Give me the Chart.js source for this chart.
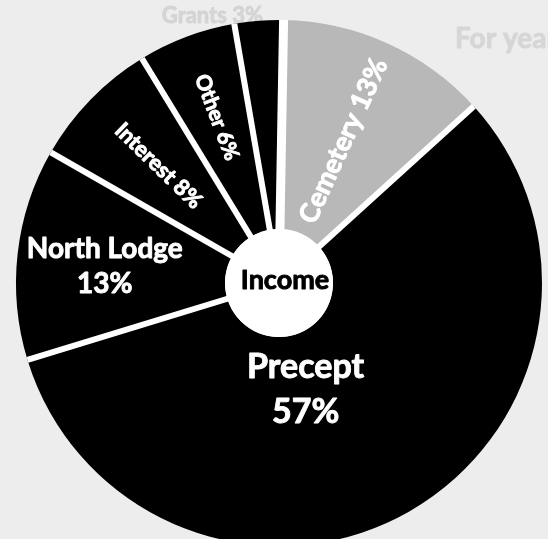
<!DOCTYPE html>
<html>
<head>
<meta charset="utf-8">
<script src="https://cdn.jsdelivr.net/npm/chart.js@4.4.0/dist/chart.umd.min.js"></script>
<style>
  html, body { margin: 0; padding: 0; background: #ededed; overflow: hidden; }
  #wrap { position: relative; width: 548px; height: 539px; overflow: hidden; }
  canvas { position: absolute; left: 0; top: 0; }
</style>
</head>
<body>
<div id="wrap"><canvas id="incomeChart" width="560" height="570"></canvas></div>
<script>
const categories = ['Cemetery', 'Precept', 'North Lodge', 'Interest', 'Other', 'Grants'];
const shares = [13, 57, 13, 8, 6, 3];
const sliceColors = ['#b8b8b8', '#000000', '#000000', '#000000', '#000000', '#000000'];
const centerTitle = 'Income';
const headerText = 'For year';

// how each slice label is placed (distance from centre in px, font size)
const labelLayout = [
  { dist: 156, size: 27, mode: 'radial' },
  { dist: 110, size: 34, mode: 'flat', angleDeg: 166, lines: 2, gap: 45 },
  { dist: 175, size: 28, mode: 'flat', angleDeg: 275.5, lines: 2, gap: 35 },
  { dist: 168, size: 22, mode: 'radial' },
  { dist: 177, size: 21, mode: 'radial' },
  { dist: 275, size: 22, mode: 'flat', angleDeg: 346, color: '#d4d4d4', behind: true }
];

const FONT = 'Lato, "Open Sans", sans-serif';

// bold text with a thin outline of the same colour, closer to the heavy original face
function heavyText(ctx, text, x, y) {
  ctx.strokeStyle = ctx.fillStyle;
  ctx.lineWidth = 0.9;
  ctx.lineJoin = 'round';
  ctx.strokeText(text, x, y);
  ctx.fillText(text, x, y);
}

function drawLabels(chart, behind) {
  const ctx = chart.ctx;
  const arcs = chart.getDatasetMeta(0).data;
  arcs.forEach((arc, i) => {
    const lay = labelLayout[i];
    if (!!lay.behind !== behind) return;
    let mid = (arc.startAngle + arc.endAngle) / 2;
    if (lay.angleDeg !== undefined) mid = (lay.angleDeg - 90) * Math.PI / 180;
    const px = arc.x + Math.cos(mid) * lay.dist;
    const py = arc.y + Math.sin(mid) * lay.dist;
    ctx.save();
    ctx.translate(px, py);
    ctx.fillStyle = lay.color || '#ffffff';
    ctx.font = `bold ${lay.size}px ${FONT}`;
    ctx.textAlign = 'center';
    ctx.textBaseline = 'middle';
    if (lay.mode === 'radial') {
      const outward = Math.cos(mid) >= 0;
      ctx.rotate(outward ? mid : mid + Math.PI);
      heavyText(ctx, `${categories[i]} ${shares[i]}%`, 0, 0);
    } else if (lay.lines === 2) {
      heavyText(ctx, categories[i], 0, -lay.gap / 2);
      heavyText(ctx, `${shares[i]}%`, 0, lay.gap / 2);
    } else {
      heavyText(ctx, `${categories[i]} ${shares[i]}%`, 0, 0);
    }
    ctx.restore();
  });
}

const pieDecor = {
  id: 'pieDecor',
  beforeDatasetsDraw(chart) {
    const ctx = chart.ctx;
    ctx.save();
    ctx.fillStyle = '#d6d6d6';
    ctx.font = `bold 28px ${FONT}`;
    ctx.textAlign = 'left';
    ctx.textBaseline = 'alphabetic';
    heavyText(ctx, headerText, 455, 48);
    ctx.restore();
    drawLabels(chart, true);
  },
  afterDatasetsDraw(chart) {
    const ctx = chart.ctx;
    const arcs = chart.getDatasetMeta(0).data;
    const { x, y, outerRadius, innerRadius } = arcs[0];

    // white separators between slices
    ctx.save();
    ctx.strokeStyle = '#ffffff';
    arcs.forEach((arc, i) => {
      const a = arc.startAngle;
      ctx.lineWidth = i === 0 ? 9 : 6;
      ctx.beginPath();
      ctx.moveTo(x, y);
      ctx.lineTo(x + Math.cos(a) * outerRadius, y + Math.sin(a) * outerRadius);
      ctx.stroke();
    });

    // white hub with title
    ctx.beginPath();
    ctx.arc(x, y, innerRadius, 0, Math.PI * 2);
    ctx.fillStyle = '#ffffff';
    ctx.fill();
    ctx.fillStyle = '#000000';
    ctx.font = `bold 27px ${FONT}`;
    ctx.textAlign = 'center';
    ctx.textBaseline = 'middle';
    heavyText(ctx, centerTitle, x + 6, y - 3);
    ctx.restore();

    drawLabels(chart, false);
  }
};

const ctx = document.getElementById('incomeChart').getContext('2d');
const incomeChart = new Chart(ctx, {
  type: 'doughnut',
  data: {
    labels: categories,
    datasets: [{
      data: shares,
      backgroundColor: sliceColors,
      borderWidth: 0
    }]
  },
  options: {
    responsive: false,
    animation: false,
    events: [],
    rotation: 1,
    cutout: 54,
    layout: { padding: { left: 16, top: 20, right: 18, bottom: 24 } },
    plugins: {
      legend: { display: false },
      tooltip: { enabled: false }
    }
  },
  plugins: [pieDecor]
});
</script>
</body>
</html>
